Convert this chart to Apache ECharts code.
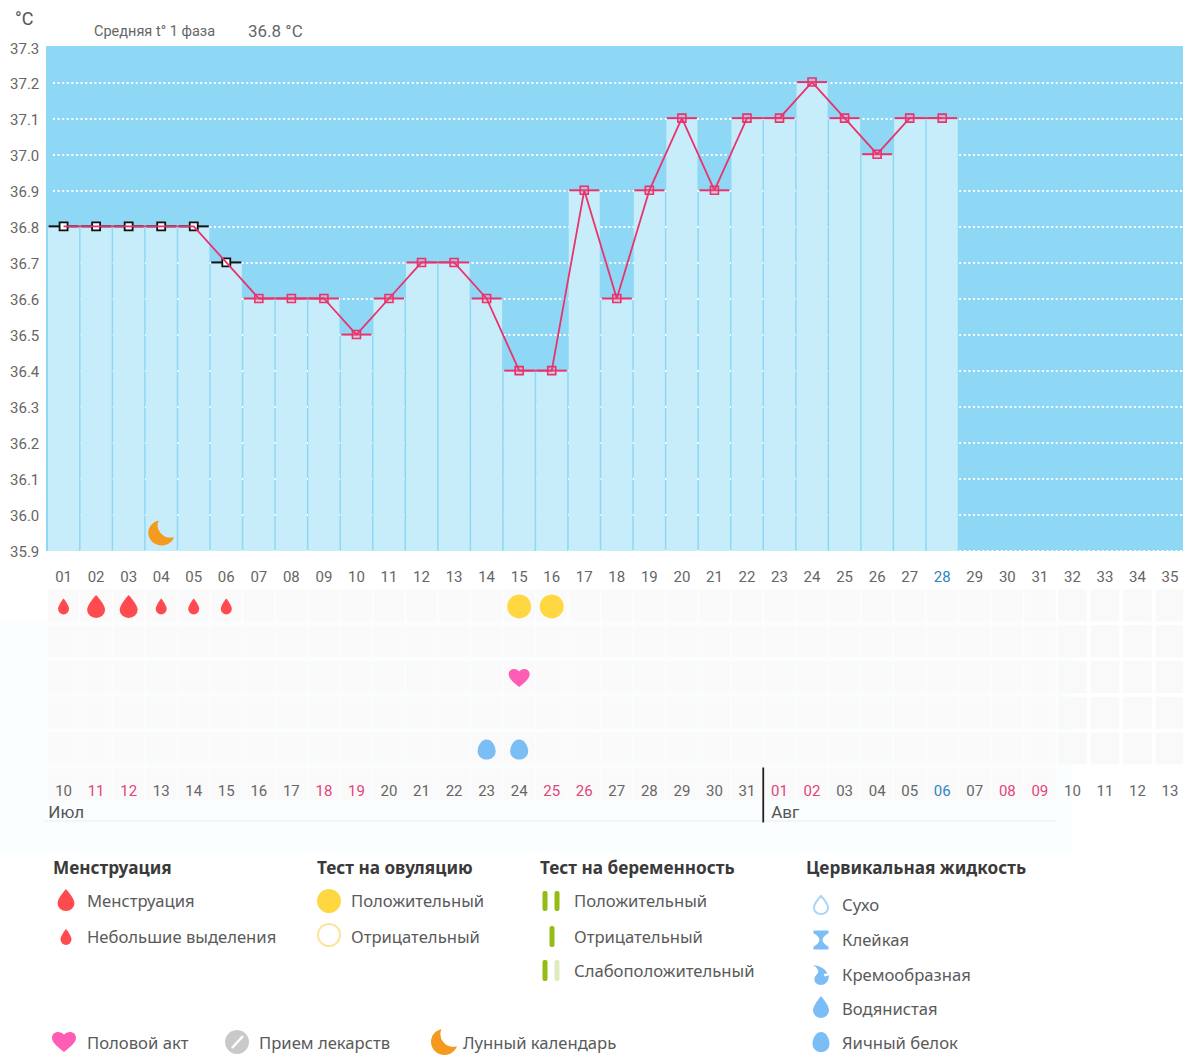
<!DOCTYPE html>
<html><head><meta charset="utf-8">
<style>html,body{margin:0;padding:0;background:#fff}#c{width:1200px;height:1055px}</style>
<script src="https://cdn.jsdelivr.net/npm/echarts@6/dist/echarts.min.js"></script>
</head><body><div id="c"></div>
<script>
// ---- data ----
const cycleDays = ['01','02','03','04','05','06','07','08','09','10','11','12','13','14','15','16','17','18','19','20','21','22','23','24','25','26','27','28','29','30','31','32','33','34','35'];
const calendarDates = ['10','11','12','13','14','15','16','17','18','19','20','21','22','23','24','25','26','27','28','29','30','31','01','02','03','04','05','06','07','08','09','10','11','12','13'];
const weekendIdx = [1,2,8,9,15,16,22,23,29,30];
const blueDayIdx = [27];
const temperatures = [36.8,36.8,36.8,36.8,36.8,36.7,36.6,36.6,36.6,36.5,36.6,36.7,36.7,36.6,36.4,36.4,36.9,36.6,36.9,37.1,36.9,37.1,37.1,37.2,37.1,37.0,37.1,37.1];
const excludedCount = 6;   // first days drawn with black markers
const heavyFlowDays = [1,2];
const lightFlowDays = [0,3,4,5];
const ovulationPosDays = [14,15];
const intercourseDays = [14];
const eggWhiteDays = [13,14];
const moonPoints = [[3,35.95]];
const monthStarts = [[0,'Июл'],[22,'Авг']];
const rowCount = 6, markedColumns = 31;

// ---- symbols ----
const DROP='M12 0C12 0 24 14 24 22A12 12 0 0 1 0 22C0 14 12 0 12 0Z';
const HEART='M12 21C5 15 0 11 0 6C0 2.5 2.8 0 6 0C8.4 0 10.6 1 12 3C13.4 1 15.6 0 18 0C21.2 0 24 2.5 24 6C24 11 19 15 12 21Z';
const EGG='M10 0C16 0 20 8 20 14C20 20 15.5 24 10 24C4.5 24 0 20 0 14C0 8 4 0 10 0Z';
const MOON='M11 0A13 13 0 1 0 26 17A12.5 12.5 0 0 1 11 0Z';
const GLASS='M0 0H20V3C15 5 12 8 12 10C12 12 15 15 20 17V20H0V17C5 15 8 12 8 10C8 8 5 5 0 3Z';
const CREAM='M0 0C10 1 18 6 20 12C17 11 15 12 15 14C15 16 18 16 22 14C22 22 17 27 11 27C5 27 1 23 2 18C3 13 8 12 7 7C6 4 3 2 0 0Z';
const RED='#FF4A50', BLUEICON='#7BBEF5', GREEN='#93BC14', GOLD='#FFD740', PINK='#FF5CB5', ORANGE='#F39A1F';
const LINE='#E8336D';

// ---- legend ----
const legendHeaders = [['Менструация',53],['Тест на овуляцию',317],['Тест на беременность',540],['Цервикальная жидкость',806]];
const legendLabels = [
 ['Менструация',87,900],['Небольшие выделения',87,936],
 ['Положительный',351,900],['Отрицательный',351,936],
 ['Положительный',574,900],['Отрицательный',574,936],['Слабоположительный',574,970],
 ['Сухо',842,904],['Клейкая',842,939],['Кремообразная',842,974],['Водянистая',842,1008],['Яичный белок',842,1042],
 ['Половой акт',87,1042],['Прием лекарств',259,1042],['Лунный календарь',463,1042]];
const legendIcons = [
 [DROP,66,900,17,22,{fill:RED}],[DROP,66,937,11,16,{fill:RED}],
 [DROP,821,905,14,18,{fill:'#fff',stroke:'#A9D6F7',lineWidth:2}],
 [GLASS,821,940,15,19,{fill:BLUEICON}],[CREAM,821,975,16,20,{fill:BLUEICON}],
 [DROP,821,1007,16,22,{fill:BLUEICON}],[EGG,821,1042,17,20,{fill:BLUEICON}],
 [HEART,64,1042,24,20,{fill:PINK}],[MOON,444,1042,26,26,{fill:ORANGE}]];
const FONT_UI="'Noto Sans', sans-serif", FONT_NUM="Roboto, sans-serif";

function bar(x,y1,y2,color){return {type:'rect',shape:{x:x-2.5,y:y1,width:5,height:y2-y1,r:2},style:{fill:color},silent:true};}
const graphics = [
 {type:'rect',z:-5,shape:{x:0,y:622,width:1073,height:232},style:{fill:'#FAFEFF'},silent:true},
 {type:'rect',z:50,shape:{x:1183,y:585,width:17,height:185},style:{fill:'#fff'},silent:true},
 {type:'line',shape:{x1:44,y1:821,x2:1056,y2:821},style:{stroke:'#EDF2F4',lineWidth:1.5},silent:true},
 {type:'text',style:{text:'°C',x:15,y:18,fontSize:18,fontFamily:FONT_NUM,fill:'#555',verticalAlign:'middle'}},
 {type:'text',style:{text:'Средняя t° 1 фаза',x:94,y:31,fontSize:14.5,fontFamily:FONT_NUM,fill:'#666',verticalAlign:'middle'}},
 {type:'text',style:{text:'36.8 °C',x:248,y:31,fontSize:17,fontFamily:FONT_NUM,fill:'#666',verticalAlign:'middle'}},
 {type:'circle',shape:{cx:329,cy:901,r:12},style:{fill:GOLD},silent:true},
 {type:'circle',shape:{cx:329,cy:935,r:11},style:{fill:'#fff',stroke:'#FBE49A',lineWidth:2},silent:true},
 bar(545,891,911,GREEN),bar(557,891,911,GREEN),bar(552,926,947,GREEN),bar(545,960,981,GREEN),bar(557,960,981,'#DFEBBD'),
 {type:'circle',shape:{cx:237,cy:1042,r:12},style:{fill:'#C9C9C9'},silent:true},
 {type:'line',shape:{x1:232,y1:1048,x2:243,y2:1036},style:{stroke:'#fff',lineWidth:2.5},silent:true}
];
legendHeaders.forEach(h=>graphics.push({type:'text',style:{text:h[0],x:h[1],y:867,fontSize:17.2,fontWeight:'bold',fontFamily:FONT_UI,fill:'#3A3A3A',verticalAlign:'middle'}}));
legendLabels.forEach(l=>graphics.push({type:'text',style:{text:l[0],x:l[1],y:l[2],fontSize:16.65,fontFamily:FONT_UI,fill:'#5A5A5A',verticalAlign:'middle'}}));

// ---- cells ----
const cellData=[];
for(let r=0;r<rowCount;r++){const cols=r===rowCount-1?markedColumns:cycleDays.length;for(let c=0;c<cols;c++)cellData.push([c,r]);}

const dateAxisData = calendarDates.map((d,i)=>({value:d,textStyle:{color:blueDayIdx.includes(i)?'#2E86C1':weekendIdx.includes(i)?'#E0457B':'#666'}}));
const dayAxisData = cycleDays.map((d,i)=>({value:d,textStyle:{color:blueDayIdx.includes(i)?'#2E86C1':'#666'}}));

const L=47.3,W=1139;
const hidden={show:false};
const eventBase={type:'scatter',xAxisIndex:3,yAxisIndex:3,silent:true,symbolOffset:[0,1]};
const tempBase={type:'scatter',xAxisIndex:2,yAxisIndex:2,silent:true};
const option={
 animation:false,
 backgroundColor:'#fff',
 graphic:{elements:graphics},
 grid:[
  {left:46,width:1137,top:46,height:505,show:true,backgroundColor:'#8FD8F5',borderWidth:0},
  {left:53,width:1130,top:47,height:504},
  {left:L,width:W,top:46,height:505},
  {left:L,width:W,top:587.5,height:214.8},
  {left:L,width:W,top:48.5,height:503.5}
 ],
 xAxis:[
  {gridIndex:0,type:'value',show:false,min:0,max:1},
  {gridIndex:1,type:'value',show:false,min:0,max:1},
  {gridIndex:2,type:'category',data:dayAxisData,axisLine:hidden,axisTick:hidden,
   axisLabel:{interval:0,margin:18,fontSize:15,fontFamily:FONT_NUM}},
  {gridIndex:3,type:'category',data:dateAxisData,axisLine:hidden,axisTick:hidden,z:5,
   axisLabel:{interval:0,inside:true,margin:4,fontSize:15,fontFamily:FONT_NUM}},
  {gridIndex:4,type:'value',show:false,min:0,max:1}
 ],
 yAxis:[
  {gridIndex:0,type:'value',show:false,min:0,max:1,splitLine:hidden},
  {gridIndex:1,type:'value',min:35.9,max:37.3,interval:0.1,axisLine:hidden,axisTick:hidden,axisLabel:hidden,
   splitLine:{show:true,showMaxLine:false,lineStyle:{color:'#fff',width:1.8,type:[2,2.6]}}},
  {gridIndex:2,type:'value',min:35.9,max:37.3,interval:0.1,show:false,splitLine:hidden},
  {gridIndex:3,type:'category',inverse:true,data:['0','1','2','3','4','5'],show:false},
  {gridIndex:4,type:'value',min:35.9,max:37.3,interval:0.1,axisLine:hidden,axisTick:hidden,splitLine:hidden,
   axisLabel:{margin:8,fontSize:15,fontFamily:FONT_NUM,color:'#666',formatter:v=>v.toFixed(1)}}
 ],
 series:[
  {type:'bar',xAxisIndex:2,yAxisIndex:2,data:temperatures,barWidth:31,itemStyle:{color:'#C8EDFA'},silent:true},
  {type:'line',xAxisIndex:2,yAxisIndex:2,data:temperatures,symbol:'none',lineStyle:{color:LINE,width:1.8},silent:true},
  {...tempBase,symbol:'rect',symbolSize:[30,2],
   data:temperatures.map((v,i)=>({value:[i,v],itemStyle:{opacity:1,color:i<excludedCount?'#111':LINE}}))},
  {...tempBase,symbol:'rect',symbolSize:8,
   data:temperatures.map((v,i)=>({value:[i,v],itemStyle:i<excludedCount?{opacity:1,color:'#fff',borderColor:'#111',borderWidth:1.8}:{opacity:1,color:'rgba(255,120,160,0.25)',borderColor:LINE,borderWidth:1.6}}))},
  {...tempBase,symbol:'path://'+MOON,symbolSize:[26,25],itemStyle:{color:ORANGE,opacity:1},data:moonPoints},
  {type:'custom',xAxisIndex:3,yAxisIndex:3,silent:true,z:1,data:cellData,
   renderItem:(p,api)=>{const c=api.value(0),pt=api.coord([c,api.value(1)]),s=api.size([1,1]);
     const w=c>=markedColumns?28.7:s[0]-1.2,h=32;
     return {type:'rect',shape:{x:pt[0]-w/2,y:pt[1]-h/2,width:w,height:h},style:{fill:c>=markedColumns?'#F9F9F9':'#FAFAFA'}};}},
  {...eventBase,symbol:'path://'+DROP,symbolSize:[18,23],itemStyle:{color:RED,opacity:1},data:heavyFlowDays.map(d=>[d,0])},
  {...eventBase,symbol:'path://'+DROP,symbolSize:[11,16],itemStyle:{color:RED,opacity:1},data:lightFlowDays.map(d=>[d,0])},
  {...eventBase,symbol:'circle',symbolSize:24,itemStyle:{color:GOLD,opacity:1},data:ovulationPosDays.map(d=>[d,0])},
  {...eventBase,symbol:'path://'+HEART,symbolSize:[21,18],itemStyle:{color:PINK,opacity:1},data:intercourseDays.map(d=>[d,2])},
  {...eventBase,symbol:'path://'+EGG,symbolSize:[18,20],itemStyle:{color:BLUEICON,opacity:1},data:eggWhiteDays.map(d=>[d,4])},
  {type:'custom',xAxisIndex:3,yAxisIndex:3,silent:true,z:6,data:monthStarts.map(m=>[m[0]]),encode:{x:0},
   renderItem:(p,api)=>{const i=api.value(0),pt=api.coord([i,rowCount-1]),s=api.size([1,1]);
     const x=pt[0]-s[0]/2,top=pt[1]-s[1]/2;const name=monthStarts[p.dataIndex][1];
     const kids=[{type:'text',style:{text:name,x:i===0?x+1:x+8,y:top+45,fontSize:17,fontFamily:FONT_NUM,fill:'#555',verticalAlign:'middle'}}];
     if(i>0)kids.push({type:'rect',shape:{x:x-0.9,y:top+1,width:1.8,height:55},style:{fill:'#222'}});
     return {type:'group',children:kids};}},
  {type:'custom',coordinateSystem:'none',silent:true,data:legendIcons.map((_,i)=>[i]),
   renderItem:(p)=>{const a=legendIcons[p.dataIndex];
     return {type:'path',shape:{pathData:a[0],layout:'cover',x:a[1]-a[3]/2,y:a[2]-a[4]/2,width:a[3],height:a[4]},style:a[5]};}}
 ]
};
const chart=echarts.init(document.getElementById('c'),null,{renderer:'svg',width:1200,height:1055});
chart.setOption(option);
</script></body></html>
